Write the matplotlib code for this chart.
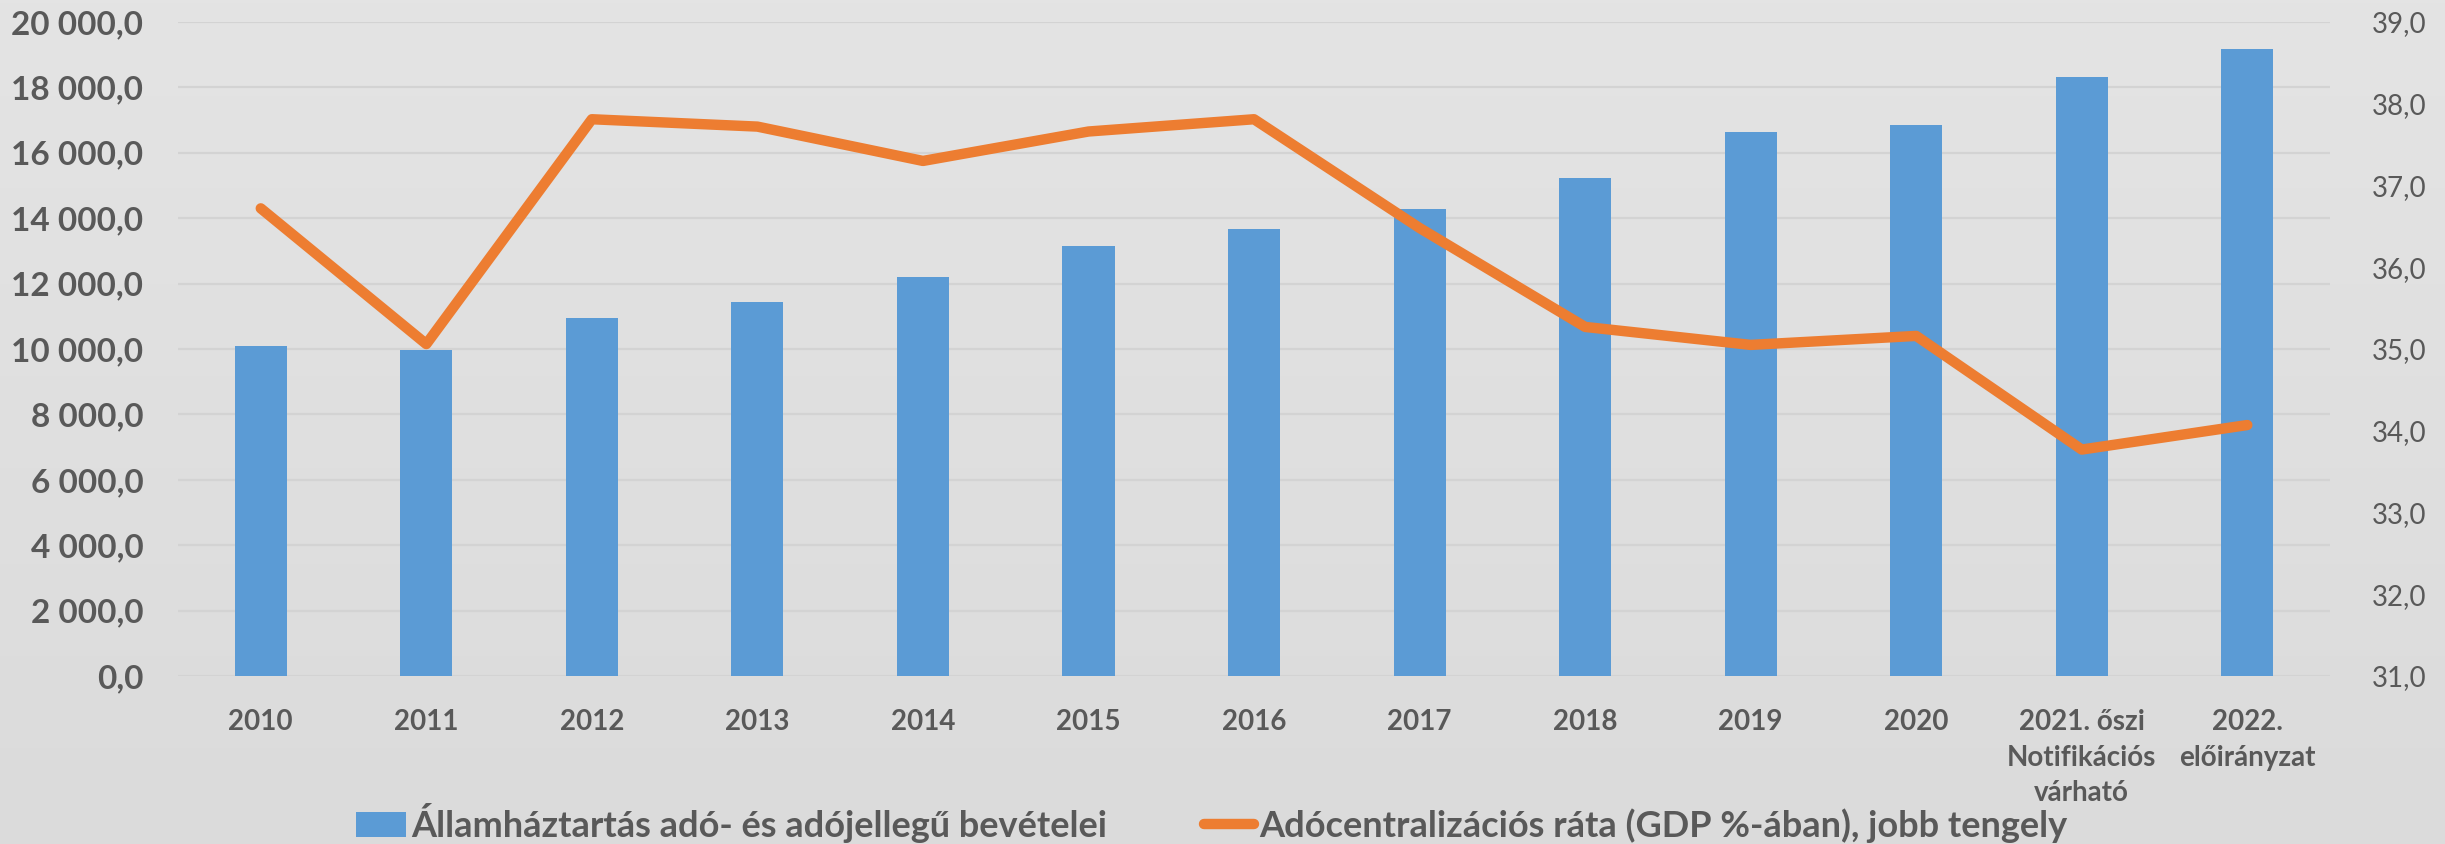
import numpy as np
import matplotlib
matplotlib.use("Agg")
import matplotlib.pyplot as plt
from matplotlib.colors import LinearSegmentedColormap
from matplotlib.ticker import FuncFormatter

# tax revenue (bars, left axis) and tax centralisation rate (line, right axis)
years = ["2010", "2011", "2012", "2013", "2014", "2015", "2016", "2017",
         "2018", "2019", "2020", "2021. őszi\nNotifikációs\nvárható",
         "2022.\nelőirányzat"]
revenue = [10100, 9960, 10950, 11430, 12190, 13140, 13670, 14290,
           15240, 16620, 16850, 18310, 19170]
rate = [36.72, 35.06, 37.81, 37.72, 37.30, 37.66, 37.81, 36.48,
        35.27, 35.05, 35.16, 33.77, 34.07]

bar_label = "Államháztartás adó- és adójellegű bevételei"
line_label = "Adócentralizációs ráta (GDP %-ában), jobb tengely"

text_col = "#595959"
plt.rcParams['font.family'] = ['Lato', 'DejaVu Sans']

fig = plt.figure(figsize=(24.45, 8.44), dpi=100)

# soft vertical background gradient
bg = fig.add_axes([0, 0, 1, 1], zorder=-10)
cmap = LinearSegmentedColormap.from_list("bg", ["#e4e4e4", "#dbdbdb"])
bg.imshow(np.linspace(0, 1, 256).reshape(-1, 1), aspect="auto", cmap=cmap,
          extent=[0, 1, 0, 1])
bg.axis("off")

ax = fig.add_axes([0.0728, 0.199, 0.8802, 0.775])
ax.patch.set_visible(False)
x = np.arange(len(years))

ax.bar(x, revenue, width=0.315, color="#5b9bd5", label=bar_label, zorder=2)
ax.set_xlim(-0.5, len(years) - 0.5)
ax.set_ylim(0, 20000)
ax.set_yticks(np.arange(0, 20001, 2000))
ax.yaxis.set_major_formatter(FuncFormatter(
    lambda v, p: "{:,.1f}".format(v).replace(",", " ").replace(".", ",")))
ax.grid(axis="y", color="#d3d3d3", linewidth=1.6, zorder=0)
ax.set_axisbelow(True)
ax.set_xticks(x)
ax.set_xticklabels(years, fontsize=20, fontweight="bold", color=text_col,
                   linespacing=1.45, va="top")
ax.tick_params(axis="x", length=0, pad=24)
ax.tick_params(axis="y", length=0, pad=25, labelsize=24, labelcolor=text_col)
for lab in ax.get_yticklabels():
    lab.set_fontweight("bold")
for s in ax.spines.values():
    s.set_visible(False)

ax2 = ax.twinx()
ax2.plot(x, rate, color="#ed7d31", linewidth=7.5, solid_capstyle="round",
         solid_joinstyle="round", label=line_label, zorder=3)
ax2.set_ylim(31, 39)
ax2.set_yticks(np.arange(31, 39.5, 1))
ax2.yaxis.set_major_formatter(FuncFormatter(
    lambda v, p: "{:.1f}".format(v).replace(".", ",")))
ax2.tick_params(axis="y", length=0, pad=30, labelsize=20, labelcolor=text_col)
for s in ax2.spines.values():
    s.set_visible(False)

h1, l1 = ax.get_legend_handles_labels()
h2, l2 = ax2.get_legend_handles_labels()
leg = fig.legend(h1 + h2, l1 + l2, loc="center", bbox_to_anchor=(0.4955, 0.025),
                 ncol=2, frameon=False, handlelength=1.39, handletextpad=0.15,
                 columnspacing=2.67, prop={"size": 26, "weight": "bold"})
for t in leg.get_texts():
    t.set_color(text_col)

fig.savefig("out.png", dpi=100, facecolor="#e0e0e0")
